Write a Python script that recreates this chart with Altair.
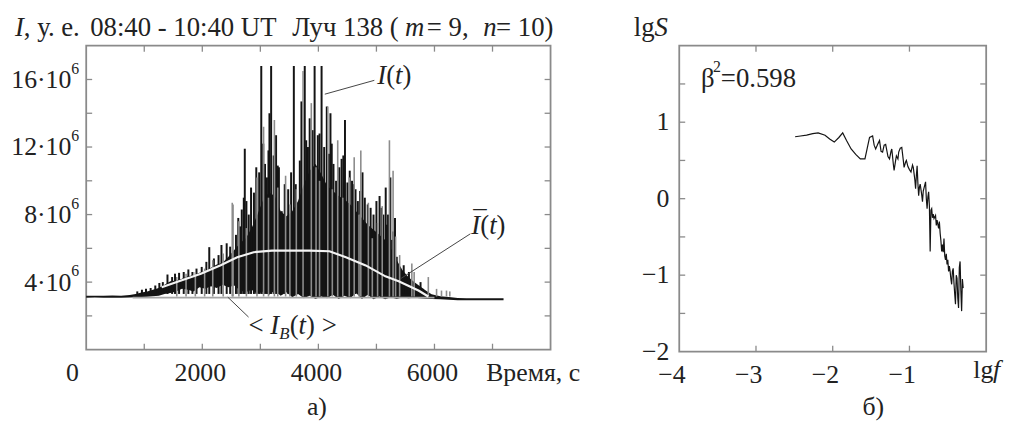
import altair as alt
import pandas as pd

FONT = "Liberation Serif"
INK = "#222222"
SIG = "#141414"
GREY = "#8c8c8c"
FRAME = "#8a8a8a"

# ---------------- left panel: I(t), values in units of 10^6 ----------------
env_t = [0, 150, 300, 450, 600, 750, 850, 950, 1050, 1150, 1250, 1350, 1450, 1550, 1650, 1750,
         1850, 1950, 2050, 2150, 2250, 2350, 2450, 2550, 2650, 2750, 2850, 2950, 3050, 3150,
         3250, 3350, 3450, 3550, 3650, 3750, 3850, 3950, 4050, 4150, 4250, 4350, 4450, 4550,
         4650, 4750, 4850, 4950, 5050, 5150, 5250, 5350, 5450, 5550, 5650, 5750, 5850, 5950,
         6100, 6250, 6400, 6550, 6700, 6850, 7000, 7190]
env_lo = [3.08, 3.09, 3.07, 3.08, 3.08, 3.09, 3.10, 3.12, 3.14, 3.17, 3.20, 3.30, 3.35, 3.45,
          3.60, 3.55, 3.45, 3.70, 3.60, 3.75, 3.65, 3.85, 3.70, 3.80, 3.50, 3.40, 3.55, 3.30,
          3.45, 3.25, 3.50, 3.20, 3.40, 3.10, 3.30, 3.05, 3.20, 3.00, 3.15, 3.05, 3.25, 3.00,
          3.20, 3.05, 3.35, 3.00, 3.25, 2.98, 3.15, 2.98, 3.10, 3.00, 3.10, 3.05, 3.08, 3.05,
          3.02, 3.00, 2.98, 2.96, 2.93, 2.92, 2.93, 2.92, 2.93, 2.92]
env_hi = [3.20, 3.19, 3.19, 3.21, 3.19, 3.24, 3.30, 3.38, 3.44, 3.55, 3.65, 3.85, 4.05, 4.10,
          4.20, 4.35, 4.40, 4.55, 4.65, 4.85, 5.05, 5.15, 5.50, 5.90, 6.30, 6.60, 7.20, 8.00,
          8.90, 9.30, 9.10, 8.20, 7.90, 8.20, 8.80, 9.80, 10.6, 11.0, 10.4, 9.70, 9.40, 9.10,
          8.90, 8.60, 8.20, 7.80, 7.40, 7.10, 6.80, 6.50, 6.00, 5.30, 4.70, 4.30, 4.00, 3.75,
          3.50, 3.28, 3.16, 3.12, 3.06, 3.04, 3.05, 3.04, 3.05, 3.04]

blk_t = [880, 960, 1030, 1110, 1190, 1260, 1320, 1400, 1480, 1530, 1600, 1680, 1760, 1830, 1900,
         1990, 2070, 2120, 2200, 2280, 2330, 2420, 2480, 2580, 2650, 2715, 2732, 2800, 2890, 2980,
         3016, 3080, 3113, 3157, 3186, 3230, 3271, 3320, 3368, 3480, 3577, 3610, 3651, 3708, 3765,
         3820, 3850, 3935, 3990, 4055, 4100, 4145, 4208, 4260, 4305, 4400, 4458, 4500, 4580, 4640,
         4680, 4760, 4800, 4900, 4950, 5000, 5054, 5120, 5160, 5200, 5240, 5270, 5320, 5350, 5420,
         5470, 5500, 5560, 5600, 5700, 5760, 5800,
         2620, 2680, 2760, 2840, 2930, 3050, 3140, 3300, 3420, 3530, 3680, 3790, 3900, 4020, 4180,
         4230, 4360, 4430, 4540, 4610, 4720, 4850, 5090, 5180, 5290]
blk_top = [3.45, 3.55, 3.6, 3.65, 3.8, 3.95, 4.0, 4.45, 4.3, 4.5, 4.55, 4.6, 4.75, 4.6, 4.8,
           4.9, 5.2, 6.07, 5.4, 5.6, 6.2, 6.3, 6.1, 6.8, 7.3, 9.0, 11.9, 8.0, 9.3, 10.5,
           16.8, 11.0, 10.2, 14.0, 16.8, 11.5, 12.7, 10.8, 8.2, 9.5, 16.8, 9.8, 8.4, 14.7, 16.8,
           12.0, 13.7, 16.8, 12.7, 16.8, 12.0, 14.4, 14.0, 11.0, 10.0, 11.3, 13.6, 9.9, 10.0, 9.5,
           8.8, 10.5, 9.0, 8.4, 8.0, 8.8, 9.1, 8.0, 9.6, 8.0, 10.2, 6.5, 7.8, 5.5, 4.6,
           5.0, 4.2, 4.6, 4.0, 3.8, 4.0, 3.6,
           7.8, 8.3, 8.8, 9.6, 10.8, 12.2, 11.8, 10.9, 9.8, 10.5, 11.2, 12.4, 13.0, 12.8, 11.6,
           12.2, 10.8, 11.5, 10.6, 9.8, 9.4, 8.6, 8.4, 7.4, 7.0]

gry_t = [1560, 1720, 1880, 2040, 2180, 2360, 2516, 2530, 2630, 2760, 2942, 3056, 3140, 3242, 3300,
         3435, 3509, 3620, 3736, 3878, 3960, 4020, 4162, 4240, 4333, 4420, 4532, 4617, 4700, 4731,
         4861, 4929, 5020, 5100, 5224, 5287, 5330, 5400, 5610, 5650, 5894, 6036, 6121, 6207, 6264]
gry_top = [4.3, 4.5, 4.6, 4.8, 5.3, 5.7, 8.7, 8.6, 7.6, 7.2, 10.2, 13.2, 9.0, 13.6, 9.6,
           10.3, 8.6, 9.5, 16.5, 14.6, 10.8, 10.0, 14.4, 9.5, 12.4, 9.0, 10.2, 11.4, 8.0, 11.8,
           8.7, 6.6, 7.5, 8.5, 12.4, 10.6, 6.7, 5.6, 5.1, 4.6, 4.3, 3.6, 3.5, 3.5, 3.45]

mean_t = [1300, 1635, 1976, 2317, 2601, 2885, 3200, 3509, 3850, 4191, 4474, 4815, 5155, 5383, 5724, 5894]
mean_v = [3.7, 4.1, 4.5, 5.0, 5.47, 5.77, 5.87, 5.87, 5.87, 5.83, 5.47, 4.99, 4.34, 4.05, 3.5, 3.15]

bg_t = [800, 6000]
bg_v = [3.08, 3.08]

lead_id = ["I", "I", "Ibar", "Ibar", "IB", "IB"]
lead_t = [4111, 4964, 5424, 6618, 2439, 2797]
lead_v = [15.13, 15.95, 4.22, 6.86, 3.11, 1.93]

left_yticks = [2, 4, 6, 8, 10, 12, 14, 16]
left_xticks = [1000, 2000, 3000, 4000, 5000, 6000, 7000]
left_ylab_v = [4, 8, 12, 16]
left_ylab = ["4·10", "8·10", "12·10", "16·10"]
left_xlab_v = [2000, 4000, 6000]
left_xlab = ["2000", "4000", "6000"]

# ---------------- right panel: spectrum ----------------
spec_lgf = [-2.49, -2.42, -2.34, -2.26, -2.19, -2.10, -2.04, -1.98, -1.92, -1.87,
            -1.82, -1.76, -1.70, -1.64, -1.58, -1.55, -1.52, -1.48, -1.46, -1.44,
            -1.41, -1.39, -1.37, -1.35, -1.33, -1.31, -1.28, -1.26, -1.24, -1.23,
            -1.21, -1.20, -1.18, -1.17, -1.15, -1.14, -1.12, -1.10, -1.08, -1.07,
            -1.05, -1.04, -1.02, -1.00, -0.98, -0.96, -0.95, -0.93, -0.92, -0.91,
            -0.90, -0.89, -0.88, -0.87, -0.86, -0.84, -0.83, -0.82, -0.80, -0.79,
            -0.78, -0.77, -0.76, -0.75, -0.74, -0.73, -0.72, -0.71, -0.70, -0.69,
            -0.68, -0.66, -0.65, -0.64, -0.62, -0.61, -0.60, -0.59, -0.58, -0.57,
            -0.56, -0.55, -0.54, -0.53, -0.52, -0.51, -0.50, -0.49, -0.48, -0.47,
            -0.46, -0.45, -0.44, -0.43, -0.42, -0.41, -0.40, -0.39, -0.38, -0.37,
            -0.36, -0.35, -0.34, -0.33, -0.32, -0.31, -0.30]
spec_lgS = [0.81, 0.82, 0.83, 0.85, 0.86, 0.83, 0.78, 0.74, 0.80, 0.86,
            0.76, 0.65, 0.58, 0.52, 0.52, 0.66, 0.80, 0.82, 0.70, 0.65,
            0.72, 0.76, 0.62, 0.61, 0.70, 0.71, 0.55, 0.52, 0.62, 0.65,
            0.45, 0.37, 0.50, 0.56, 0.52, 0.61, 0.66, 0.67, 0.50, 0.41,
            0.48, 0.50, 0.42, 0.38, 0.35, 0.44, 0.41, 0.25, 0.13, 0.30,
            0.43, 0.20, 0.04, 0.15, 0.19, 0.05, -0.04, 0.10, 0.18, 0.22,
            0.00, -0.13, 0.02, 0.09, -0.10, -0.69, -0.15, -0.13, -0.25, -0.20,
            -0.26, -0.22, -0.35, -0.28, -0.39, -0.30, -0.45, -0.55, -0.69, -0.60,
            -0.70, -0.52, -0.75, -0.80, -0.72, -0.86, -0.80, -0.95, -0.88, -0.95,
            -1.05, -1.12, -0.95, -0.91, -1.10, -1.25, -1.38, -1.00, -1.04, -1.30,
            -1.43, -0.90, -0.82, -1.20, -1.47, -1.05, -1.17]

right_yticks = [-1.5, -1, -0.5, 0, 0.5, 1, 1.5]
right_xticks = [-3, -2, -1]
right_ylab_v = [-2, -1, 0, 1]
right_ylab = ["−2", "−1", "0", "1"]
right_xlab_v = [-4, -3, -2, -1]
right_xlab = ["−4", "−3", "−2", "−1"]

W1, H1 = 469, 307
W2, H2 = 310, 309

one = pd.DataFrame({"k": [0]})


def ptxt(text, x, y, size=26, italic=False, align="left", baseline="alphabetic", color=INK):
    props = dict(text=text, font=FONT, fontSize=size, align=align, baseline=baseline, color=color)
    if italic:
        props["fontStyle"] = "italic"
    return alt.Chart(one).mark_text(**props).encode(x=alt.value(x), y=alt.value(y))


# ---------------- left panel ----------------
xs1 = alt.Scale(domain=[0, 8000], nice=False, zero=False)
ys1 = alt.Scale(domain=[0, 18], nice=False, zero=False)


def X1(f):
    return alt.X(f, type="quantitative", scale=xs1, axis=None)


def Y1(f):
    return alt.Y(f, type="quantitative", scale=ys1, axis=None)


env_df = pd.DataFrame({"t": env_t, "lo": env_lo, "hi": env_hi})
blk_df = pd.DataFrame({"t": blk_t, "top": blk_top})
blk_df["base"] = env_lo[0] + 0.22
gry_df = pd.DataFrame({"t": gry_t, "top": gry_top})
gry_df["base"] = env_lo[0] + 0.07
mean_df = pd.DataFrame({"t": mean_t, "v": mean_v})
bg_df = pd.DataFrame({"t": bg_t, "v": bg_v})
lead_df = pd.DataFrame({"id": lead_id, "t": lead_t, "v": lead_v})
lyt = pd.DataFrame({"v": left_yticks})
lxt = pd.DataFrame({"t": left_xticks})

anchor = alt.Chart(one).mark_rule(strokeOpacity=0, strokeWidth=0.1).encode(
    x=alt.value(-74), x2=alt.value(-73), y=alt.value(-32), y2=alt.value(-31))

area = alt.Chart(env_df).mark_area(color=SIG, opacity=1).encode(
    x=X1("t"), y=Y1("lo"), y2=alt.Y2("hi"))
blk = alt.Chart(blk_df).mark_rule(color=SIG, strokeWidth=2).encode(
    x=X1("t"), y=Y1("base"), y2=alt.Y2("top"))
gry = alt.Chart(gry_df).mark_rule(color=GREY, strokeWidth=1.6).encode(
    x=X1("t"), y=Y1("base"), y2=alt.Y2("top"))
bg_line = alt.Chart(bg_df).mark_line(color="#a5a5a5", strokeWidth=1.6).encode(
    x=X1("t"), y=Y1("v"))
mean_line = alt.Chart(mean_df).mark_line(color="#f4f4f4", strokeWidth=2.2).encode(
    x=X1("t"), y=Y1("v"))
leads = alt.Chart(lead_df).mark_line(color="#444444", strokeWidth=1).encode(
    x=X1("t"), y=Y1("v"), detail="id:N")

tick_l = alt.Chart(lyt).mark_rule(color=FRAME, strokeWidth=1.3).encode(
    y=Y1("v"), x=alt.value(0), x2=alt.value(6))
tick_r = alt.Chart(lyt).mark_rule(color=FRAME, strokeWidth=1.3).encode(
    y=Y1("v"), x=alt.value(W1 - 6), x2=alt.value(W1))
tick_b = alt.Chart(lxt).mark_rule(color=FRAME, strokeWidth=1.3).encode(
    x=X1("t"), y=alt.value(H1 - 6), y2=alt.value(H1))
tick_t = alt.Chart(lxt).mark_rule(color=FRAME, strokeWidth=1.3).encode(
    x=X1("t"), y=alt.value(0), y2=alt.value(6))

ylab_df = pd.DataFrame({"v": left_ylab_v, "lab": left_ylab})
ylab = alt.Chart(ylab_df).mark_text(font=FONT, fontSize=26, align="right", baseline="alphabetic",
                                    dy=8.5, color=INK).encode(
    x=alt.value(-15), y=Y1("v"), text="lab:N")
ysup = alt.Chart(ylab_df).mark_text(text="6", font=FONT, fontSize=16, align="left",
                                    baseline="alphabetic", dy=-6, color=INK).encode(
    x=alt.value(-15), y=Y1("v"))
xlab_df = pd.DataFrame({"t": left_xlab_v, "lab": left_xlab})
xlab = alt.Chart(xlab_df).mark_text(font=FONT, fontSize=26, align="center", baseline="alphabetic",
                                    dx=-2, color=INK).encode(
    x=X1("t"), y=alt.value(H1 + 32), text="lab:N")
xzero = alt.Chart(pd.DataFrame({"t": [0], "lab": ["0"]})).mark_text(
    font=FONT, fontSize=26, align="center", baseline="alphabetic", dx=-14, color=INK).encode(
    x=X1("t"), y=alt.value(H1 + 32), text="lab:N")

left_texts = [
    # title line
    ptxt("I", -72, -10, 27, italic=True),
    ptxt(", у. е.", -63, -10, 27),
    ptxt("08:40 - 10:40 UT", 4, -10, 27),
    ptxt("Луч 138 (", 208, -10, 27),
    ptxt("m", 322, -10, 27, italic=True),
    ptxt(" = 9, ", 344, -10, 27),
    ptxt("n", 401, -10, 27, italic=True),
    ptxt(" = 10)", 414, -10, 27),
    # x axis title
    ptxt("Время, с", 404, H1 + 32, 26),
    ptxt("а)", 233, 373, 26, align="center"),
    # I(t)
    ptxt("I", 294, 39, 27, italic=True),
    ptxt("(", 303, 39, 27),
    ptxt("t", 312, 39, 27, italic=True),
    ptxt(")", 319.5, 39, 27),
    # I bar (t)
    ptxt("¯", 391, 186, 27),
    ptxt("I", 389, 190, 27, italic=True),
    ptxt("(", 398, 190, 27),
    ptxt("t", 407, 190, 27, italic=True),
    ptxt(")", 414.5, 190, 27),
    # < I_B(t) >
    ptxt("<", 164, 291, 27),
    ptxt("I", 186, 291, 27, italic=True),
    ptxt("B", 195, 296, 17, italic=True),
    ptxt("(", 205.5, 291, 27),
    ptxt("t", 214.5, 291, 27, italic=True),
    ptxt(")", 222, 291, 27),
    ptxt(">", 238, 291, 27),
]

left = alt.layer(
    anchor, area, blk, gry, bg_line, mean_line, leads,
    tick_l, tick_r, tick_b, tick_t, ylab, ysup, xlab, xzero, *left_texts
).properties(width=W1, height=H1)

# ---------------- right panel ----------------
xs2 = alt.Scale(domain=[-4, 0], nice=False, zero=False)
ys2 = alt.Scale(domain=[-2, 2], nice=False, zero=False)


def X2(f):
    return alt.X(f, type="quantitative", scale=xs2, axis=None)


def Y2(f):
    return alt.Y(f, type="quantitative", scale=ys2, axis=None)


spec_df = pd.DataFrame({"f": spec_lgf, "s": spec_lgS})
ryt = pd.DataFrame({"v": right_yticks})
rxt = pd.DataFrame({"t": right_xticks})

spec = alt.Chart(spec_df).mark_line(color=SIG, strokeWidth=1.2).encode(x=X2("f"), y=Y2("s"))
rtick_l = alt.Chart(ryt).mark_rule(color=FRAME, strokeWidth=1.3).encode(
    y=Y2("v"), x=alt.value(0), x2=alt.value(6))
rtick_r = alt.Chart(ryt).mark_rule(color=FRAME, strokeWidth=1.3).encode(
    y=Y2("v"), x=alt.value(W2 - 6), x2=alt.value(W2))
rtick_b = alt.Chart(rxt).mark_rule(color=FRAME, strokeWidth=1.3).encode(
    x=X2("t"), y=alt.value(H2 - 6), y2=alt.value(H2))
rtick_t = alt.Chart(rxt).mark_rule(color=FRAME, strokeWidth=1.3).encode(
    x=X2("t"), y=alt.value(0), y2=alt.value(6))
rylab = alt.Chart(pd.DataFrame({"v": right_ylab_v, "lab": right_ylab})).mark_text(
    font=FONT, fontSize=26, align="right", baseline="middle", color=INK).encode(
    x=alt.value(-10), y=Y2("v"), text="lab:N")
rxlab = alt.Chart(pd.DataFrame({"t": right_xlab_v, "lab": right_xlab})).mark_text(
    font=FONT, fontSize=26, align="right", baseline="alphabetic", dx=6.5, color=INK).encode(
    x=X2("t"), y=alt.value(H2 + 32), text="lab:N")

right_texts = [
    ptxt("lg", -46, -10, 27),
    ptxt("S", -25, -10, 27, italic=True),
    ptxt("lg", 297, H2 + 27, 26),
    ptxt("f", 317, H2 + 27, 26, italic=True),
    ptxt("β", 22, 42, 27),
    ptxt("2", 34, 27, 16),
    ptxt("=0.598", 42, 42, 27),
    ptxt("б)", 196, 373, 26, align="center"),
]

right = alt.layer(
    spec, rtick_l, rtick_r, rtick_b, rtick_t, rylab, rxlab, *right_texts
).properties(width=W2, height=H2)

chart = alt.hconcat(left, right, spacing=130, bounds="flush").configure(
    font=FONT
).configure_text(
    font=FONT
).configure_view(
    stroke=FRAME, strokeWidth=1.8
).properties(
    background="white",
    padding={"left": 2, "top": 3, "right": 2, "bottom": 2},
)

chart.save("out.html", embed_options={"renderer": "svg", "actions": False})
